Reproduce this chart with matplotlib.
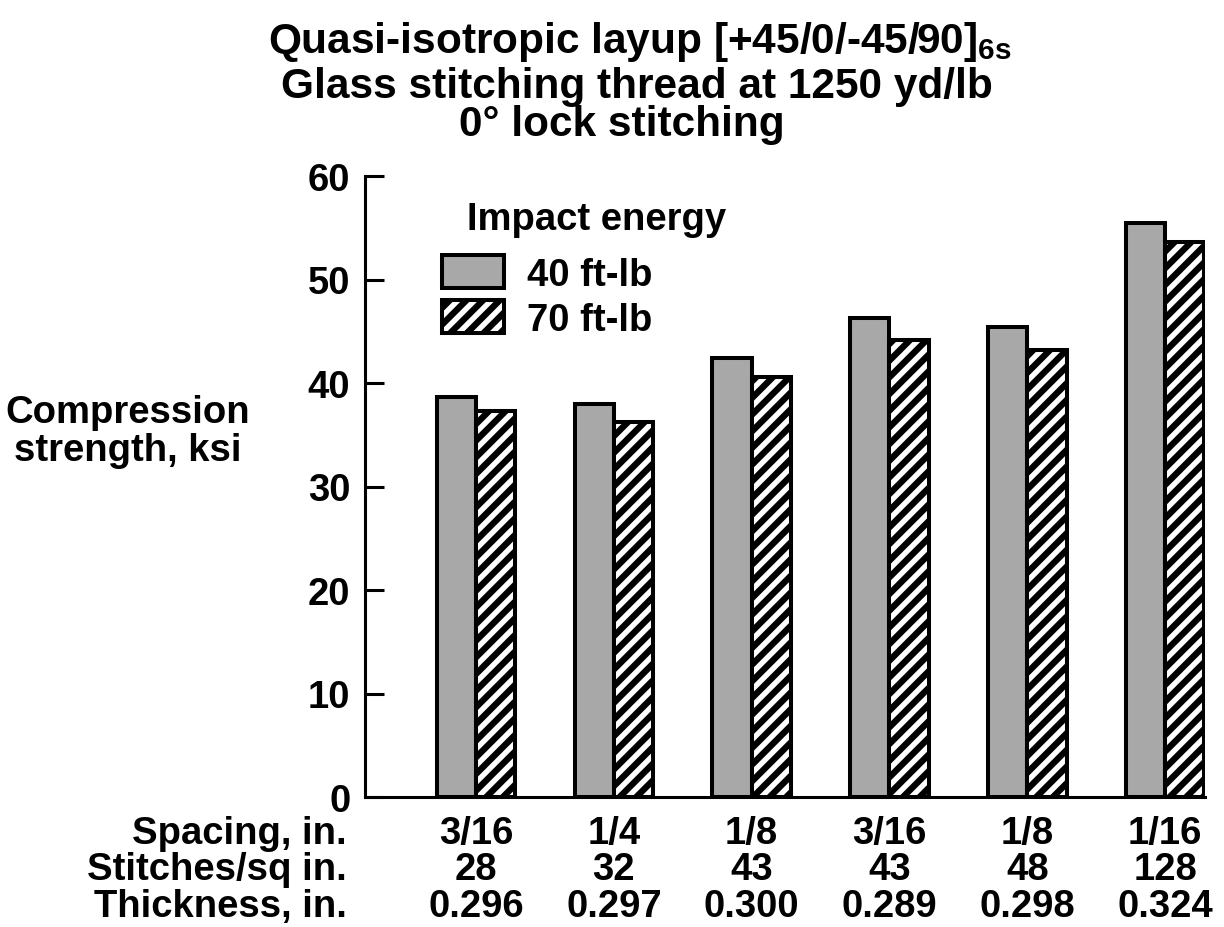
import matplotlib
matplotlib.use('Agg')
import matplotlib.pyplot as plt
from matplotlib.patches import Patch
from matplotlib.transforms import blended_transform_factory
import numpy as np

# ---- data ----
spacing = ['3/16', '1/4', '1/8', '3/16', '1/8', '1/16']
stitches = ['28', '32', '43', '43', '48', '128']
thickness = ['0.296', '0.297', '0.300', '0.289', '0.298', '0.324']
strength_40 = [38.6, 38.0, 42.4, 46.3, 45.4, 55.5]
strength_70 = [37.3, 36.2, 40.6, 44.2, 43.2, 53.6]
series_labels = ['40 ft-lb', '70 ft-lb']
row_labels = ['Spacing, in.', 'Stitches/sq in.', 'Thickness, in.']
yticks = [0, 10, 20, 30, 40, 50, 60]

plt.rcParams['font.family'] = ['Liberation Sans', 'DejaVu Sans']
plt.rcParams['font.weight'] = 'bold'
plt.rcParams['hatch.linewidth'] = 4.6
plt.rcParams['mathtext.fontset'] = 'custom'
plt.rcParams['mathtext.rm'] = 'Liberation Sans:bold'
plt.rcParams['mathtext.bf'] = 'Liberation Sans:bold'

W, H, DPI = 1224, 928, 100
FS = 27.5
TFS = 30.5
LW = 2.9
HATCH = '//'
fig = plt.figure(figsize=(W / DPI, H / DPI), dpi=DPI)
ax = fig.add_axes([365 / W, 130 / H, 840 / W, 621 / H])

x = np.arange(len(spacing))
w = 0.285
gray = '#a8a8a8'
ax.bar(x - w / 2, strength_40, w, color=gray, edgecolor='black', linewidth=LW)
ax.bar(x + w / 2, strength_70, w, color='white', edgecolor='black', hatch=HATCH, linewidth=LW)

ax.set_xlim(-0.806, 5.29)
ax.set_ylim(0, 60)
ax.set_yticks(yticks)
ax.set_xticks([])
for s in ['top', 'right']:
    ax.spines[s].set_visible(False)
for s in ['left', 'bottom']:
    ax.spines[s].set_linewidth(2.2)
ax.tick_params(axis='y', direction='in', length=14, width=2.2, pad=10.5, labelsize=FS)
for lab in ax.get_yticklabels():
    lab.set_fontweight('bold')

# table below axis
tr = blended_transform_factory(ax.transData, fig.transFigure)
row_y = [1 - 844 / H, 1 - 880 / H, 1 - 917 / H]
for ry, rl, vals in zip(row_y, row_labels, [spacing, stitches, thickness]):
    fig.text(347 / W, ry, rl, ha='right', va='baseline', fontsize=FS, fontweight='bold')
    for xi, v in zip(x, vals):
        ax.text(xi, ry, v, transform=tr, ha='center', va='baseline', fontsize=FS,
                fontweight='bold', clip_on=False)

# y label
fig.text(128 / W, 1 - 432 / H, 'Compression\nstrength, ksi', ha='center', va='center',
         fontsize=FS, fontweight='bold', linespacing=1.07)

# title
fig.text(0.523, 1 - 53 / H, r'Quasi-isotropic layup [+45/0/-45/90]$_{\mathbf{6s}}$',
         ha='center', va='baseline', fontsize=TFS, fontweight='bold')
fig.text(0.52, 1 - 98 / H, 'Glass stitching thread at 1250 yd/lb',
         ha='center', va='baseline', fontsize=TFS, fontweight='bold')
fig.text(0.508, 1 - 136 / H, '0\u00b0 lock stitching',
         ha='center', va='baseline', fontsize=TFS, fontweight='bold')

# legend
fig.text(467 / W, 1 - 230 / H, 'Impact energy', ha='left', va='baseline',
         fontsize=FS, fontweight='bold')
handles = [Patch(facecolor=gray, edgecolor='black', linewidth=LW),
           Patch(facecolor='white', edgecolor='black', hatch=HATCH, linewidth=LW)]
fig.legend(handles, series_labels, loc='upper left', bbox_to_anchor=(442 / W, 1 - 256 / H),
           frameon=False, handlelength=1.62, handleheight=0.95,
           handletextpad=0.6, labelspacing=0.2, borderpad=0, borderaxespad=0,
           prop={'weight': 'bold', 'size': FS})

fig.savefig('out.png', dpi=DPI)
